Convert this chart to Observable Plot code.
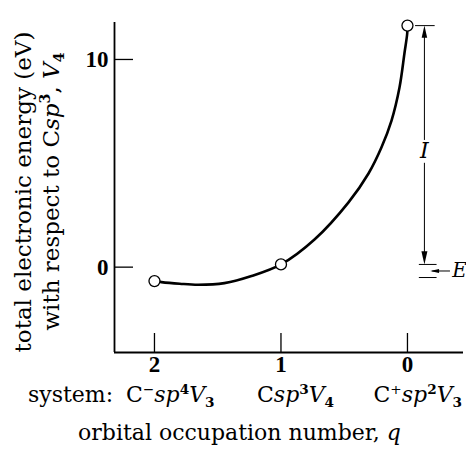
<!DOCTYPE html>
<html><head><meta charset="utf-8">
<script src="https://cdn.jsdelivr.net/npm/d3@7"></script>
<script src="https://cdn.jsdelivr.net/npm/@observablehq/plot@0.6"></script>
<style>body{margin:0;background:#fff}</style>
</head><body><div id="chart"></div>
<script>
// ---- data ----
const q = [2, 1, 0];                       // orbital occupation number
const energy = [-0.67, 0.13, 11.63];       // eV, relative to Csp3 V4
const curveQ = [2, 1.945, 1.8, 1.655, 1.447, 1.233, 1, 0.735, 0.466, 0.308, 0.206, 0.126, 0.063, 0.024, 0.002, 0];
const curveE = [-0.67, -0.72, -0.80, -0.85, -0.77, -0.43, 0.13, 1.33, 3.12, 4.51, 5.76, 7.06, 8.65, 10.29, 11.25, 11.63];
const xTicks = [2, 1, 0];
const yTicks = [0, 10];
// annotation values (eV)
const ionTop = 11.63, ionBottom = 0.13, affinityBottom = -0.5;
const labelI = "I", labelE = "E";

// ---- layout ----
const W = 466, H = 457, mL = 114, mR = 3, mT = 22, mB = 105;
const xDomain = [2.316, -0.443];
const yDomain = [-4.11, 11.78];
const xTickLen = (yDomain[1] - yDomain[0]) * 19 / (H - mT - mB);
const yTickLen = (xDomain[0] - xDomain[1]) * 19 / (W - mL - mR);
const annoQ = -0.134;

const points = q.map((d, i) => ({q: d, e: energy[i]}));
const curve = curveQ.map((d, i) => ({q: d, e: curveE[i]}));
const eMid = (ionBottom + affinityBottom) / 2;

const arrowHead = {
  draw(ctx, size) {
    const r = Math.sqrt(size / Math.PI);
    ctx.moveTo(0, 0);
    ctx.lineTo(-r * 0.5, r * 2.2);
    ctx.lineTo(r * 0.5, r * 2.2);
    ctx.closePath();
  }
};

const plot = Plot.plot({
  width: W, height: H,
  marginLeft: mL, marginRight: mR, marginTop: mT, marginBottom: mB,
  style: {fontFamily: "DejaVu Serif", background: "white", color: "black"},
  x: {domain: xDomain},
  y: {domain: yDomain},
  marks: [
    Plot.line(curve, {x: "q", y: "e", curve: "catmull-rom", strokeWidth: 2.6}),
    Plot.ruleX([xDomain[0]], {strokeWidth: 1.8}),
    Plot.ruleY([yDomain[0]], {strokeWidth: 1.8}),
    Plot.ruleX(xTicks, {x: d => d, y1: yDomain[0], y2: yDomain[0] + xTickLen, strokeWidth: 1.3}),
    Plot.ruleY(yTicks, {y: d => d, x1: xDomain[0], x2: xDomain[0] - yTickLen, strokeWidth: 1.3}),
    Plot.axisX({ticks: xTicks, tickFormat: d => String(d), tickSize: 0, tickPadding: 3, fontSize: 23, fontFamily: "Liberation Serif", fontWeight: "bold", label: null}),
    Plot.axisY({ticks: yTicks, tickFormat: d => String(d), tickSize: 0, tickPadding: 6, fontSize: 23, fontFamily: "Liberation Serif", fontWeight: "bold", label: null}),
    Plot.dot(points, {x: "q", y: "e", r: 5.5, fill: "white", stroke: "black", strokeWidth: 1.3}),
    // ionization arrow I
    Plot.ruleY([ionTop], {x1: annoQ + 0.07, x2: annoQ - 0.085, strokeWidth: 1}),
    Plot.ruleY([ionBottom, affinityBottom], {x1: annoQ + 0.04, x2: annoQ - 0.1, strokeWidth: 1}),
    Plot.ruleX([annoQ], {y1: 6.1, y2: ionTop - 0.3, strokeWidth: 1}),
    Plot.ruleX([annoQ], {y1: 5.0, y2: ionBottom + 0.3, strokeWidth: 1}),
    Plot.dot([ionTop], {x: annoQ, y: d => d, symbol: arrowHead, r: 5.5, fill: "black", stroke: null}),
    Plot.dot([ionBottom], {x: annoQ, y: d => d, symbol: arrowHead, r: 6, rotate: 180, fill: "black", stroke: null}),
    Plot.text([labelI], {x: annoQ, y: 5.6, text: d => d, fontSize: 22, fontStyle: "italic", fontFamily: "DejaVu Serif"}),
    // affinity arrow E
    Plot.ruleY([eMid], {x1: -0.34, x2: -0.2, strokeWidth: 1}),
    Plot.dot([eMid], {x: -0.18, y: d => d, symbol: arrowHead, r: 4, rotate: -90, fill: "black", stroke: null}),
    Plot.text([labelE], {x: -0.355, y: eMid, text: d => d, textAnchor: "start", fontSize: 20, fontStyle: "italic", fontFamily: "DejaVu Serif"})
  ]
});

// rich text labels (superscripts, subscripts, italics)
function rich(parent, x, y, segs, {size, anchor = "start", rotate = 0, family = "DejaVu Serif"}) {
  const t = parent.append("text")
    .attr("transform", `translate(${x},${y}) rotate(${rotate})`)
    .attr("text-anchor", anchor)
    .style("font-family", `"${family}", serif`)
    .attr("font-size", size).attr("fill", "black");
  let shift = 0;
  for (const s of segs) {
    const [str, code = ""] = typeof s === "string" ? [s] : s;
    const tsp = t.append("tspan").text(str);
    let target = 0, fs = size;
    if (code.includes("^")) { target = -0.38 * size; fs = 0.62 * size; }
    if (code.includes("_")) { target = 0.22 * size; fs = 0.62 * size; }
    tsp.attr("dy", target - shift); shift = target;
    tsp.attr("font-size", fs);
    if (code.includes("i")) tsp.attr("font-style", "italic");
    if (code.includes("b")) tsp.attr("font-weight", "bold");
  }
  return t;
}

const svg = d3.select(plot);
// y-axis title (two lines)
rich(svg, 30.5, 192, ["total electronic energy (eV)"], {size: 23, anchor: "middle", rotate: -90});
rich(svg, 59, 191.5, ["with respect to C", ["sp", "i"], ["3", "^b"], ", ", ["V", "i"], ["4", "_b"]], {size: 23, anchor: "middle", rotate: -90});
// x-axis titles
rich(svg, 28, 402, ["system:"], {size: 22});
rich(svg, 126, 402, ["C", ["\u2212", "^"], ["sp", "i"], ["4", "^b"], ["V", "i"], ["3", "_b"]], {size: 22});
rich(svg, 257, 402, ["C", ["sp", "i"], ["3", "^b"], ["V", "i"], ["4", "_b"]], {size: 22});
rich(svg, 462, 402, ["C", ["+", "^"], ["sp", "i"], ["2", "^b"], ["V", "i"], ["3", "_b"]], {size: 22, anchor: "end"});
rich(svg, 239.5, 440, ["orbital occupation number, ", ["q", "i"]], {size: 22, anchor: "middle"});

document.getElementById("chart").append(plot);
</script>
</body></html>
